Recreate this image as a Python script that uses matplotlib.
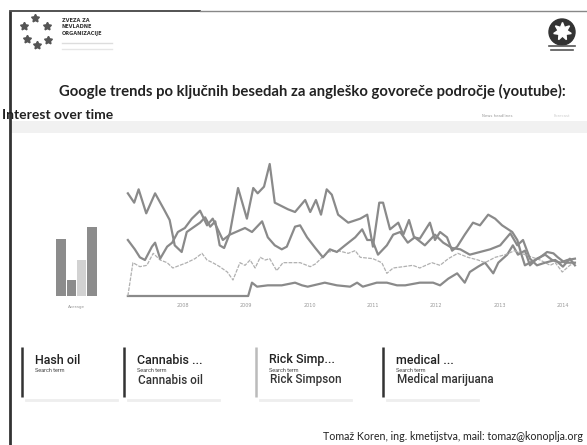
import matplotlib
matplotlib.use("Agg")
import matplotlib.pyplot as plt
from matplotlib.patches import Rectangle, Circle

# ---------------- data ----------------
title = "Google trends po ključnih besedah za angleško govoreče področje (youtube):"
subtitle = "Interest over time"
footer = "Tomaž Koren, ing. kmetijstva, mail: tomaz@konoplja.org"
card_titles = ["Hash oil", "Cannabis ...", "Rick Simp...", "medical ..."]
card_terms = ["", "Cannabis oil", "Rick Simpson", "Medical marijuana"]
averages = [43, 12, 27, 52]
year_ticks = [2008, 2009, 2010, 2011, 2012, 2013, 2014]

mm_t = [2007.13, 2007.23, 2007.30, 2007.42, 2007.56, 2007.70, 2007.79, 2007.87, 2007.98, 2008.06,
        2008.27, 2008.35, 2008.43, 2008.51, 2008.58, 2008.65, 2008.74, 2008.87, 2009.01, 2009.11,
        2009.18, 2009.28, 2009.37, 2009.45, 2009.66, 2009.77, 2009.93, 2010.01, 2010.10, 2010.18,
        2010.27, 2010.35, 2010.45, 2010.61, 2010.80, 2010.91, 2011.00, 2011.10, 2011.16, 2011.27,
        2011.40, 2011.48, 2011.57, 2011.65, 2011.74, 2011.90, 2011.98, 2012.06, 2012.17, 2012.25,
        2012.33, 2012.45, 2012.58, 2012.69, 2012.82, 2012.93, 2013.04, 2013.20, 2013.28, 2013.34,
        2013.40, 2013.48, 2013.64, 2013.75, 2013.85, 2013.92, 2014.03, 2014.19]
mm_v = [77, 70, 80, 62, 77, 65, 57, 38, 33, 48,
        55, 59, 52, 56, 38, 36, 47, 81, 58, 81,
        77, 82, 99, 70, 65, 63, 72, 63, 72, 61,
        80, 76, 61, 55, 58, 61, 37, 70, 70, 50,
        55, 46, 57, 44, 43, 55, 42, 48, 44, 34,
        37, 46, 55, 53, 61, 58, 53, 48, 42, 32,
        23, 25, 29, 33, 32, 29, 25, 25]

hash_t = [2007.13, 2007.24, 2007.32, 2007.40, 2007.51, 2007.56, 2007.64, 2007.75, 2007.83, 2007.92,
          2008.03, 2008.14, 2008.27, 2008.38, 2008.47, 2008.55, 2008.63, 2008.74, 2008.98, 2009.09,
          2009.25, 2009.34, 2009.45, 2009.56, 2009.64, 2009.77, 2009.85, 2009.96, 2010.09, 2010.21,
          2010.32, 2010.43, 2010.56, 2010.72, 2010.83, 2010.91, 2010.99, 2011.08, 2011.22, 2011.32,
          2011.43, 2011.55, 2011.66, 2011.82, 2011.98, 2012.11, 2012.25, 2012.38, 2012.53, 2012.69,
          2012.85, 2013.01, 2013.17, 2013.28, 2013.37, 2013.48, 2013.59, 2013.72, 2013.88, 2014.00,
          2014.11, 2014.19]
hash_v = [42, 35, 29, 27, 37, 40, 28, 37, 40, 48,
          51, 58, 64, 53, 58, 50, 42, 46, 51, 48,
          56, 44, 38, 35, 37, 52, 53, 44, 36, 29,
          35, 33, 38, 44, 50, 42, 42, 31, 38, 46,
          48, 40, 44, 38, 46, 40, 36, 35, 31, 33,
          35, 38, 47, 38, 42, 28, 23, 25, 27, 22,
          28, 23]

rick_t = [2007.13, 2007.21, 2007.32, 2007.43, 2007.53, 2007.64, 2007.75, 2007.84, 2007.95, 2008.06,
          2008.19, 2008.30, 2008.38, 2008.47, 2008.58, 2008.70, 2008.79, 2008.90, 2008.98, 2009.06,
          2009.14, 2009.22, 2009.30, 2009.37, 2009.48, 2009.58, 2009.69, 2009.85, 2010.01, 2010.09,
          2010.20, 2010.29, 2010.45, 2010.61, 2010.72, 2010.80, 2011.00, 2011.14, 2011.22, 2011.32,
          2011.48, 2011.63, 2011.74, 2011.93, 2012.06, 2012.19, 2012.34, 2012.50, 2012.66, 2012.77,
          2012.93, 2013.09, 2013.24, 2013.40, 2013.64, 2013.80, 2013.88, 2013.99, 2014.11, 2014.19]
rick_v = [0, 25, 22, 23, 32, 27, 25, 21, 23, 25,
          28, 32, 27, 25, 22, 18, 12, 25, 23, 27,
          21, 29, 27, 28, 19, 25, 25, 25, 22, 24,
          29, 33, 34, 32, 34, 29, 28, 25, 17, 21,
          22, 23, 21, 25, 23, 28, 32, 29, 27, 25,
          29, 31, 34, 31, 27, 23, 25, 18, 23, 25]

oil_t = [2007.13, 2009.03, 2009.09, 2009.17, 2009.34, 2009.56, 2009.77, 2009.88, 2009.97, 2010.24,
         2010.43, 2010.64, 2010.75, 2010.84, 2011.06, 2011.22, 2011.38, 2011.51, 2011.74, 2011.95,
         2012.06, 2012.19, 2012.33, 2012.45, 2012.53, 2012.66, 2012.77, 2012.90, 2012.98, 2013.12,
         2013.21, 2013.29, 2013.40, 2013.48, 2013.59, 2013.72, 2013.83, 2013.96, 2014.07, 2014.19]
oil_v = [0, 0, 10, 7, 8, 8, 10, 8, 7, 10,
         8, 7, 10, 7, 10, 10, 8, 8, 10, 10,
         8, 13, 17, 10, 18, 22, 25, 17, 25, 31,
         38, 31, 34, 23, 28, 31, 27, 25, 27, 28]

# ---------------- figure ----------------
W, H = 587, 445
fig = plt.figure(figsize=(W / 100, H / 100), dpi=100)
fig.patch.set_facecolor("white")

bg = fig.add_axes([0, 0, 1, 1])
bg.set_xlim(0, W)
bg.set_ylim(H, 0)
bg.axis("off")

# slide borders
bg.plot([10, 10], [11, H], color="#333333", lw=2.0, solid_capstyle="butt")
bg.plot([10, 200], [11, 11], color="#444444", lw=1.3)
bg.plot([200, W], [11, 11], color="#888888", lw=1.0)

# left logo (approximation)
for (x, y) in [(24, 26), (35, 18), (47, 26), (27, 39), (37, 45), (48, 40)]:
    bg.plot(x, y, marker=(5, 1, 0), ms=6, color="#555555")
for i, s in enumerate(["ZVEZA ZA", "NEVLADNE", "ORGANIZACIJE"]):
    bg.text(62, 20 + i * 6.5, s, fontsize=3.6, fontweight="bold", color="#333333",
            va="center", family="DejaVu Sans")
bg.plot([62, 112], [43, 43], color="#dddddd", lw=1)
bg.plot([62, 112], [49, 49], color="#e6e6e6", lw=1)

# right logo (approximation)
bg.add_patch(Circle((562, 32), 13, color="#333333"))
bg.plot(562, 31, marker=(7, 1, 0), ms=13, color="white")
bg.plot([549, 575], [46, 46], color="#555555", lw=1.2)
bg.plot([551, 573], [50, 50], color="#555555", lw=1.2)

# title
bg.text(312, 91, title, fontsize=10.7, fontweight="bold", family="Lato",
        ha="center", va="center", color="#222222")

# panel header band
bg.add_patch(Rectangle((10, 121), W - 10, 12, color="#f1f1f1", lw=0))
bg.text(2, 115, subtitle, fontsize=10, fontweight="bold", family="Lato",
        ha="left", va="center", color="#222222")
bg.text(497, 116, "News headlines", fontsize=2.8, color="#999999", ha="center", va="center")
bg.text(562, 116, "Forecast", fontsize=2.8, color="#cccccc", ha="center", va="center")

# legend cards
card_x = [22, 124, 256, 383]
card_bar_col = ["#333333", "#333333", "#bbbbbb", "#333333"]
for i in range(4):
    x = card_x[i]
    bg.plot([x, x], [347, 397], color=card_bar_col[i], lw=1.8, solid_capstyle="butt")
    bg.plot([x + 4, x + 95], [400, 400], color="#eeeeee", lw=2)
    bg.text(x + 13, 360, card_titles[i], fontsize=9, family="Roboto", fontweight="medium",
            ha="left", va="center", color="#222222")
    bg.text(x + 13, 371, "Search term", fontsize=4.0, family="Roboto",
            ha="left", va="center", color="#444444")
    if card_terms[i]:
        bg.text(x + 14, 380, card_terms[i], fontsize=8.4, family="Roboto", fontweight="medium",
                ha="left", va="center", color="#333333")

bg.text(583, 437, footer, fontsize=7.7, family="Lato", ha="right", va="center", color="#222222")

# ---------------- average bars ----------------
axb = fig.add_axes([56 / W, 1 - 300 / H, 41 / W, 150 / H])
axb.patch.set_alpha(0)
bar_cols = ["#8c8c8c", "#8c8c8c", "#d2d2d2", "#8c8c8c"]
axb.bar(range(4), averages, width=0.92, color=bar_cols)
axb.set_xlim(-0.5, 3.5)
axb.set_ylim(-3, 109.5)
axb.axis("off")
bg.text(76, 307, "Average", fontsize=3, color="#999999", ha="center", va="center")

# ---------------- lines ----------------
ax = fig.add_axes([100 / W, 1 - 300 / H, 480 / W, 150 / H])
ax.patch.set_alpha(0)
gray = "#8a8a8a"
ax.plot(oil_t, oil_v, color=gray, lw=1.6)
ax.plot(rick_t, rick_v, color="#b0b0b0", lw=0.9, ls=(0, (3, 1)))
ax.plot(hash_t, hash_v, color=gray, lw=1.6)
ax.plot(mm_t, mm_v, color=gray, lw=1.6)
ax.set_xlim(2006.69, 2014.27)
ax.set_ylim(-3, 109.5)
for s in ax.spines.values():
    s.set_visible(False)
ax.set_yticks([])
ax.set_xticks(year_ticks)
ax.set_xticklabels([str(y) for y in year_ticks], fontsize=3.5, color="#999999")
ax.tick_params(axis="x", length=0, pad=2)

fig.savefig("out.png", dpi=100, facecolor="white")
